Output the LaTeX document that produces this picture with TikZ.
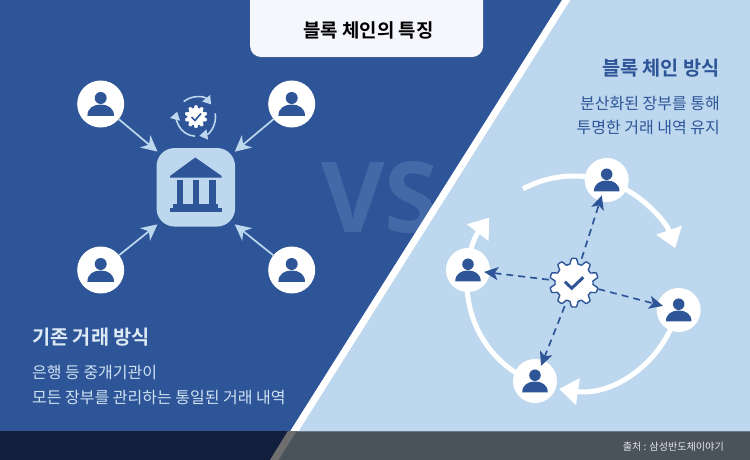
\documentclass[tikz,border=0pt]{standalone}
\usepackage{fontspec}
\usetikzlibrary{arrows.meta,shadows,calc}
\newfontfamily\krreg{Noto Sans CJK KR}
\newfontfamily\krbold{Noto Sans CJK KR Bold}
\newfontfamily\vsfont{Open Sans}
\definecolor{bgblue}{HTML}{2E5597}
\definecolor{paleblue}{HTML}{BDD7EE}
\definecolor{vsblue}{HTML}{4369A6}
\definecolor{cardwhite}{HTML}{F5F7FC}
\definecolor{footgrey}{HTML}{4A535C}
\definecolor{footdark}{HTML}{111F3C}
\definecolor{footline}{HTML}{6F6F70}
\definecolor{lefthead}{HTML}{DDEAF6}
\definecolor{leftbody}{HTML}{CFE2F3}
\definecolor{foottext}{HTML}{E4E6E8}
\tikzset{
  person/.style={circle,fill=white,draw=none,inner sep=0pt,minimum size=#1},
  thinarrow/.style={draw=paleblue,line width=1.7pt,-{Stealth[length=16pt,width=16pt,inset=5pt]},shorten >=-1pt},
  dasharrow/.style={draw=bgblue,line width=1.7pt,dash pattern=on 7pt off 5pt,shorten >=-6pt,-{Stealth[length=14pt,width=13pt,inset=3.5pt]}},
  ringarrow/.style={draw=white,line width=5pt,-{Triangle[length=19pt,width=26pt]}},
  smallarc/.style={draw=paleblue,line width=1.6pt,-{Triangle[length=8pt,width=10pt]}},
  headtext/.style={font=\krbold\fontsize{19.7}{24}\selectfont,inner sep=0pt},
  bodytext/.style={font=\krreg\fontsize{16}{20}\selectfont,inner sep=0pt},
  bank/.style={fill=bgblue,draw=none}
}
\newcommand{\personicon}[2]{%
  \begin{scope}[shift={(#1)},scale=#2]
    \fill[bgblue] (0,-6) circle[radius=6];
    \fill[bgblue] (-13.3,11.8) .. controls (-13.3,4) and (-7,0.5) .. (0,0.5) .. controls (7,0.5) and (13.3,4) .. (13.3,11.8) -- cycle;
  \end{scope}}
\newcommand{\gearplot}[6]{%
  \filldraw[fill=#4,draw=#5,line width=#6,line join=round,shift={(#1)}]
    plot[domain=0:360,samples=241,variable=\t]
    ({(#3+(#2-#3)*(0.5+0.5*max(-1,min(1,1.8*cos(10*\t+180)))))*cos(\t)},
     {(#3+(#2-#3)*(0.5+0.5*max(-1,min(1,1.8*cos(10*\t+180)))))*sin(\t)}) -- cycle;}
\begin{document}
\begin{tikzpicture}[x=1pt,y=-1pt]
\useasboundingbox (0,0) rectangle (750,460);
\clip (0,0) rectangle (750,460);
% backgrounds
\fill[bgblue] (0,0) rectangle (750,460);
\begin{scope}
  \clip (0,0) -- (562,0) -- (272,460) -- (0,460) -- cycle;
  \node[inner sep=0pt,text=vsblue,font=\vsfont\bfseries\fontsize{98}{98}\selectfont] (vs) at (380,197) {VS};
\end{scope}
\fill[white] (562,0) -- (750,0) -- (750,460) -- (272,460) -- cycle;
\fill[paleblue] (570.5,0) -- (750,0) -- (750,460) -- (280.5,460) -- cycle;
% footer
\fill[footgrey] (0,431) rectangle (750,460);
\fill[footdark] (0,431) -- (288,431) -- (270,460) -- (0,460) -- cycle;
\fill[footline] (288,431) -- (296.5,431) -- (278.5,460) -- (270,460) -- cycle;
\draw[draw=footgrey!70!paleblue,line width=.8pt] (296.5,431.2) -- (750,431.2);
\node[anchor=east,inner sep=0pt,text=foottext,font=\krreg\fontsize{10.1}{12}\selectfont] (src) at (724,446.3) {출처 : 삼성반도체이야기};
% title card
\node[fill=cardwhite,draw=none,rounded corners=11pt,minimum width=233pt,minimum height=77pt,inner sep=0pt,
  drop shadow={shadow xshift=0pt,shadow yshift=-1.5pt,opacity=.15}] (card) at (366.6,18.5) {};
\node[inner sep=0pt,text=black,font=\krbold\fontsize{18.9}{22}\selectfont] (title) at (368.5,30.5) {블록 체인의 특징};
% left side
\node[person=47pt] (la) at (100.7,104) {};
\node[person=47pt] (lb) at (291.7,104) {};
\node[person=47pt] (lc) at (100.7,270) {};
\node[person=47pt] (ld) at (291.7,270) {};
\personicon{la}{1}\personicon{lb}{1}\personicon{lc}{1}\personicon{ld}{1}
\node[fill=paleblue,rounded corners=18pt,minimum size=78.5pt,inner sep=0pt] (bankbox) at (195.8,187.3) {};
\fill[bank] (195.3,157.5) -- (221.7,176) -- (221.7,177.5) -- (170,177.5) -- (170,176) -- cycle;
\fill[bank] (176.5,180) rectangle (216,204);
\fill[paleblue] (182.7,180) rectangle (192.7,203.5);
\fill[paleblue] (198.7,180) rectangle (209,203.5);
\fill[bank] (173,204) rectangle (217.5,207.5);
\fill[bank] (170,207.5) rectangle (221.7,212.2);
\coordinate (bta) at (156.7,151);
\coordinate (btb) at (235.5,151);
\coordinate (btc) at (156.7,225);
\coordinate (btd) at (235.5,225);
\draw[thinarrow] (la) -- (bta);
\draw[thinarrow] (lb) -- (btb);
\draw[thinarrow] (lc) -- (btc);
\draw[thinarrow] (ld) -- (btd);
% small gear with arcs
\coordinate (sg) at (196,116.7);
\coordinate (sa) at ($(sg)+(231:19.5)$);
\coordinate (sb) at ($(sg)+(350:19.5)$);
\coordinate (sc) at ($(sg)+(93:19.5)$);
\draw[smallarc] (sa) arc[start angle=231,delta angle=90,radius=19.5];
\draw[smallarc] (sb) arc[start angle=350,delta angle=90,radius=19.5];
\draw[smallarc] (sc) arc[start angle=93,delta angle=102,radius=19.5];
\gearplot{sg}{11}{8.4}{white}{white}{.5pt}
\draw[bgblue,line width=1.6pt] (191.5,117) -- (195,120.5) -- (201,113.5);
% left text
\node[anchor=west,text=lefthead] [headtext] (lh) at (32,336.8) {기존 거래 방식};
\node[anchor=west,text=leftbody] [bodytext] (l1) at (32,373) {은행 등 중개기관이};
\node[anchor=west,text=leftbody] [bodytext] (l2) at (32,398) {모든 장부를 관리하는 통일된 거래 내역};
% right side
\node[text=bgblue,anchor=east] [headtext] (rh) at (720,68.3) {블록 체인 방식};
\node[text=bgblue,anchor=east] [bodytext] (r1) at (720,103.5) {분산화된 장부를 통해};
\node[text=bgblue,anchor=east] [bodytext] (r2) at (720,127.5) {투명한 거래 내역 유지};
\coordinate (c) at (574,283);
\coordinate (ra) at ($(c)+(241.5:107)$);
\coordinate (rb) at ($(c)+(14.5:107)$);
\coordinate (rc) at ($(c)+(111.7:107)$);
\draw[ringarrow] (ra) arc[start angle=241.5,delta angle=99.5,radius=107];
\draw[ringarrow] (rb) arc[start angle=14.5,delta angle=83.5,radius=107];
\draw[ringarrow] (rc) arc[start angle=111.7,delta angle=106,radius=107];
\node[person=44pt] (p1) at (606.7,180) {};
\node[person=44pt] (p2) at (468,270) {};
\node[person=44pt] (p3) at (678.7,310) {};
\node[person=44pt] (p4) at (535,381) {};
\personicon{p1}{.96}\personicon{p2}{.96}\personicon{p3}{.96}\personicon{p4}{.96}
\node[circle,inner sep=0pt,minimum size=50pt] (gear) at (574,282.7) {};
\gearplot{gear.center}{24.3}{19}{white}{bgblue}{1.4pt}
\draw[bgblue,line width=3pt] (565,281.7) -- (571.7,288.3) -- (583.3,277.3);
\draw[dasharrow] (gear) -- (p1);
\draw[dasharrow] (gear) -- (p2);
\draw[dasharrow] (gear) -- (p3);
\draw[dasharrow] (gear) -- (p4);
\end{tikzpicture}
\end{document}
